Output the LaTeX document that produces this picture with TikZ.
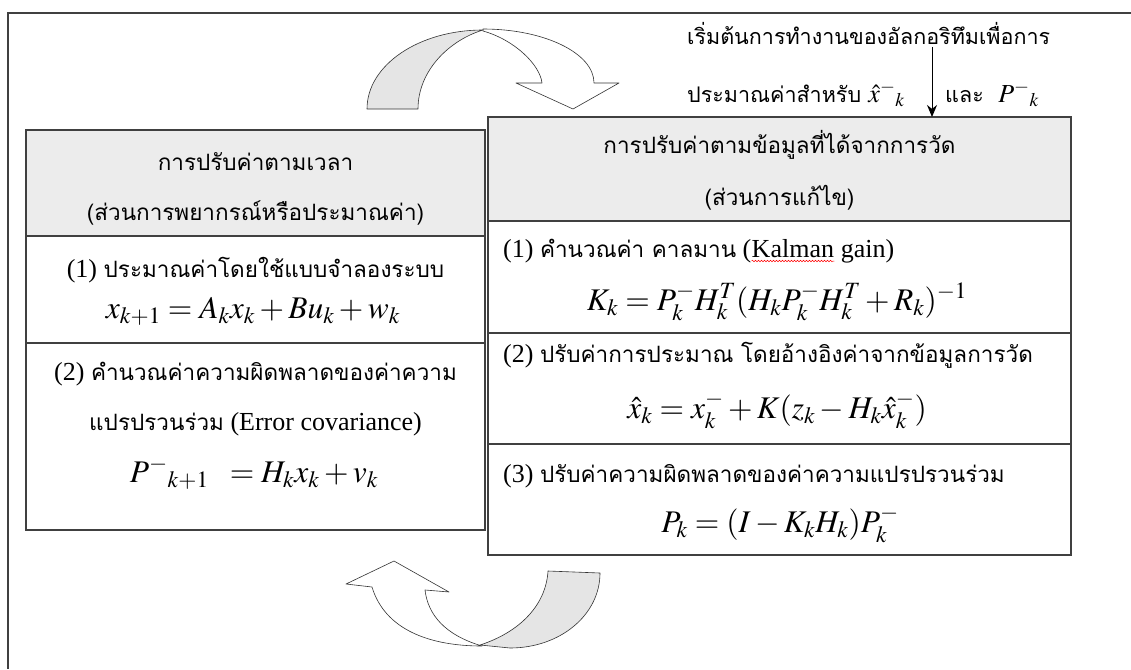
\documentclass[tikz,border=0pt]{standalone}
\usepackage{mathptmx}
\usepackage[no-math]{fontspec}
\setmainfont{Liberation Serif}
\newfontfamily\thaifont[Script=Thai]{Loma}
\usetikzlibrary{arrows.meta,decorations.pathmorphing}
\newcommand\thtxt[1]{{\thaifont\fontsize{22.5}{26}\selectfont #1}}
\begin{document}
\begin{tikzpicture}[x=1pt,y=-1pt,
  frame/.style={draw=black!75,line width=1.6pt},
  boxline/.style={draw=black!75,line width=1.2pt},
  boxnode/.style={boxline,inner sep=0pt,outer sep=0pt},
  lat/.style={font=\fontsize{26}{30}\selectfont,inner sep=0pt},
  thl/.style={font=\thaifont\fontsize{22.5}{26}\selectfont,inner sep=0pt},
  toptxt/.style={font=\thaifont\fontsize{21.5}{26}\selectfont,inner sep=0pt},
  eqn/.style={font=\fontsize{31.5}{36}\selectfont,inner sep=0pt},
  ribbon/.style={draw=black!80,line width=0.6pt,line join=round},
  hdr/.style={fill=gray!15}]
\useasboundingbox (0,0) rectangle (1131,669);
\draw[frame] (1131,13) -- (8,13) -- (8,669);

% left box
\fill[hdr] (26,130) rectangle (485,236);
\node[boxnode,minimum width=459pt,minimum height=400pt] (lbox) at (255.5,330) {};
\draw[boxline] (26,236) -- (485,236);
\draw[boxline] (26,343) -- (485,343);
\node[thl,anchor=base] (lh1) at (255.5,170) {การปรับค่าตามเวลา};
\node[thl,anchor=base] (lh2) at (255.5,220) {(ส่วนการพยากรณ์หรือประมาณค่า)};
\node[lat,anchor=base] (l1) at (255.5,277) {(1) \thtxt{ประมาณค่าโดยใช้แบบจำลองระบบ}};
\node[eqn,anchor=base] (le1) at (253,318) {$x_{k+1} = A_k x_k + Bu_k + w_k$};
\node[lat,anchor=base] (l2) at (255.5,380) {(2) \thtxt{คำนวณค่าความผิดพลาดของค่าความ}};
\node[lat,anchor=base] (l3) at (255.5,430) {\thtxt{แปรปรวนร่วม} (Error covariance)};
\node[eqn,anchor=base] (le2) at (254,482) {$P^{-}{}_{k+1}\;\; = H_k x_k + v_k$};

% right box
\fill[hdr] (488,117) rectangle (1071,221);
\node[boxnode,minimum width=583pt,minimum height=438pt] (rbox) at (779.5,336) {};
\draw[boxline] (488,221) -- (1071,221);
\draw[boxline] (488,333) -- (1071,333);
\draw[boxline] (488,444) -- (1071,444);
\node[thl,anchor=base] (rh1) at (779.5,153) {การปรับค่าตามข้อมูลที่ได้จากการวัด};
\node[thl,anchor=base] (rh2) at (779.5,205) {(ส่วนการแก้ไข)};
\node[lat,anchor=base west] (r1a) at (503,257) {(1) \thtxt{คำนวณค่า คาลมาน} (};
\node[lat,anchor=base west] (r1b) at (r1a.base east) {Kalman};
\node[lat,anchor=base west] (r1c) at (r1b.base east) {\ gain)};
\draw[red,line width=0.5pt,decorate,decoration={snake,amplitude=0.8pt,segment length=3pt}]
  ([yshift=-4pt]r1b.base west) -- ([yshift=-4pt]r1b.base east);
\node[eqn,anchor=base] (re1) at (777,310) {$K_k = P_k^{-} H_k^{T} (H_k P_k^{-} H_k^{T} + R_k)^{-1}$};
\node[lat,anchor=base west] (r2) at (503,362) {(2) \thtxt{ปรับค่าการประมาณ โดยอ้างอิงค่าจากข้อมูลการวัด}};
\node[eqn,anchor=base] (re2) at (777,418) {$\hat{x}_k = x_k^{-} + K(z_k - H_k \hat{x}_k^{-})$};
\node[lat,anchor=base west] (r3) at (503,482) {(3) \thtxt{ปรับค่าความผิดพลาดของค่าความแปรปรวนร่วม}};
\node[eqn,anchor=base] (re3) at (780,532) {$P_k = (I - K_k H_k) P_k^{-}$};

% top text and arrow
\node[toptxt,anchor=base west] (t1) at (687,45) {เริ่มต้นการทำงานของอัลกอริทึมเพื่อการ};
\node[toptxt,anchor=base west] (t2a) at (687,102) {ประมาณค่าสำหรับ {\fontsize{26}{30}\selectfont$\hat{x}^{-}{}_{k}$}};
\node[toptxt,anchor=base west] (t2b) at (945,102) {และ\ \ {\fontsize{26}{30}\selectfont$P^{-}{}_{k}$}};
\coordinate (ts) at (932,47);
\draw[-{Stealth[length=12pt,width=10pt]},line width=1pt] (ts) -- (rbox.north -| ts);

% top curved arrow
\draw[ribbon,fill=gray!20] (367,109) .. controls (367,65) and (419,30) .. (483,30)
  .. controls (450,40) and (418,70) .. (418,109) -- cycle;
\draw[ribbon,fill=white] (483,31) .. controls (515,40) and (540,65) .. (542,83)
  -- (516,83) -- (573,109) -- (619,83) -- (594,83)
  .. controls (594,53) and (544,29) .. (483,29) -- cycle;

% bottom curved arrow
\draw[ribbon,fill=white] (425,590) -- (449,592) -- (394,561) -- (346,584) -- (372,587)
  .. controls (385,630) and (430,646) .. (482,646)
  .. controls (445,635) and (428,615) .. (425,590) -- cycle;
\draw[ribbon,fill=gray!20] (480,645) .. controls (520,632) and (546,605) .. (548,571)
  -- (600,573) .. controls (600,615) and (560,648) .. (510,648) -- cycle;
\end{tikzpicture}
\end{document}
